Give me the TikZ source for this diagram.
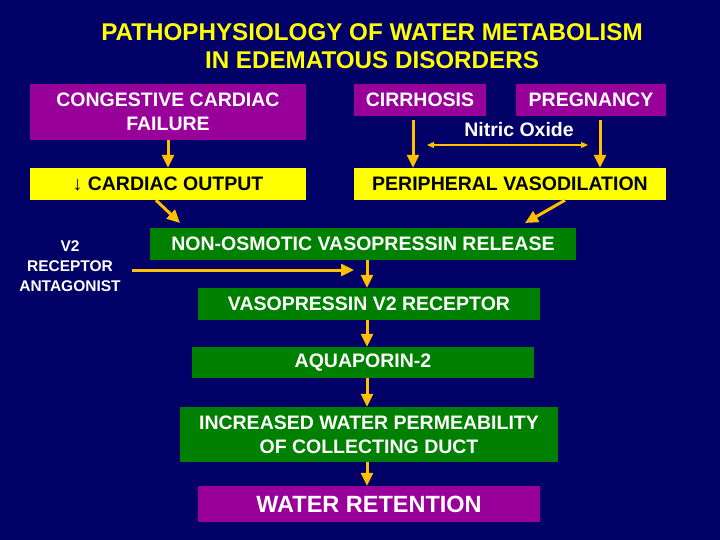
\documentclass[tikz,border=0pt]{standalone}
\usepackage{fontspec}
\setmainfont{Liberation Sans}
\usetikzlibrary{arrows.meta}
\definecolor{bg}{HTML}{000066}
\definecolor{pur}{HTML}{990099}
\definecolor{grn}{HTML}{008000}
\definecolor{yel}{HTML}{FFFF00}
\definecolor{arr}{HTML}{FFC000}
\begin{document}
\begin{tikzpicture}[x=1pt,y=-1pt,
  box/.style={inner sep=0pt,align=center,font=\bfseries\fontsize{19.5}{24}\selectfont},
  pbox/.style={box,fill=pur,text=white},
  ybox/.style={box,fill=yel,text=black},
  gbox/.style={box,fill=grn,text=white},
  flow/.style={draw=arr,line width=3pt,-{Triangle[width=12pt,length=13pt]}},
  thin/.style={draw=arr,line width=1.2pt,{Triangle[width=6pt,length=7pt]}-{Triangle[width=6pt,length=7pt]}}]
\useasboundingbox (0,0) rectangle (720,540);
\fill[bg] (0,0) rectangle (720,540);
\node[text=yel,align=center,font=\bfseries\fontsize{24.2}{28}\selectfont] (title) at (372,46) {PATHOPHYSIOLOGY OF WATER METABOLISM\\IN EDEMATOUS DISORDERS};
\node[pbox,minimum width=276pt,minimum height=56pt] (ccf) at (168,112) {CONGESTIVE CARDIAC\\FAILURE};
\node[pbox,minimum width=132pt,minimum height=32pt] (cir) at (420,100) {CIRRHOSIS};
\node[pbox,minimum width=150pt,minimum height=32pt] (preg) at (591,100) {PREGNANCY};
\node[text=white,font=\bfseries\fontsize{19.5}{22}\selectfont] (no) at (519,130) {Nitric Oxide};
\node[ybox,minimum width=276pt,minimum height=32pt] (co) at (168,184) {↓ CARDIAC OUTPUT};
\node[ybox,minimum width=312pt,minimum height=32pt] (pv) at (510,184) {PERIPHERAL VASODILATION};
\node[gbox,minimum width=426pt,minimum height=32pt] (nov) at (363,244) {NON-OSMOTIC VASOPRESSIN RELEASE};
\node[text=white,align=center,font=\bfseries\fontsize{15.5}{20}\selectfont] (v2a) at (70,266) {V2\\RECEPTOR\\ANTAGONIST};
\node[gbox,minimum width=342pt,minimum height=32pt] (v2r) at (369,304) {VASOPRESSIN V2 RECEPTOR};
\node[gbox,minimum width=342pt,minimum height=31pt] (aqp) at (363,362.5) {AQUAPORIN-2};
\node[gbox,minimum width=378pt,minimum height=55pt] (iwp) at (369,434.5) {INCREASED WATER PERMEABILITY\\OF COLLECTING DUCT};
\node[pbox,minimum width=342pt,minimum height=36pt,font=\bfseries\fontsize{23.5}{26}\selectfont] (wr) at (369,504) {WATER RETENTION};
\coordinate (nol) at (427,145);
\coordinate (nor) at (588,145);
\coordinate (cirb) at (413,120);
\coordinate (pregb) at (600,120);
\coordinate (v2s) at (132,270);
\coordinate (v2e) at (354,270);
\coordinate (spine) at (367,0);
\coordinate (coend) at (180,223);
\coordinate (pvend) at (525,223);
\draw[flow] (ccf.south) -- (co.north);
\draw[flow] (cirb) -- (cirb|-pv.north);
\draw[flow] (pregb) -- (pregb|-pv.north);
\draw[thin] (nol) -- (nor);
\draw[flow] ([xshift=-12pt]co.south) -- (coend);
\draw[flow] ([xshift=55pt]pv.south) -- (pvend);
\draw[flow] (v2s) -- (v2e);
\draw[flow] (spine|-nov.south) -- (spine|-v2r.north);
\draw[flow] (spine|-v2r.south) -- (spine|-aqp.north);
\draw[flow] (spine|-aqp.south) -- (spine|-iwp.north);
\draw[flow] (spine|-iwp.south) -- (spine|-wr.north);
\end{tikzpicture}
\end{document}
